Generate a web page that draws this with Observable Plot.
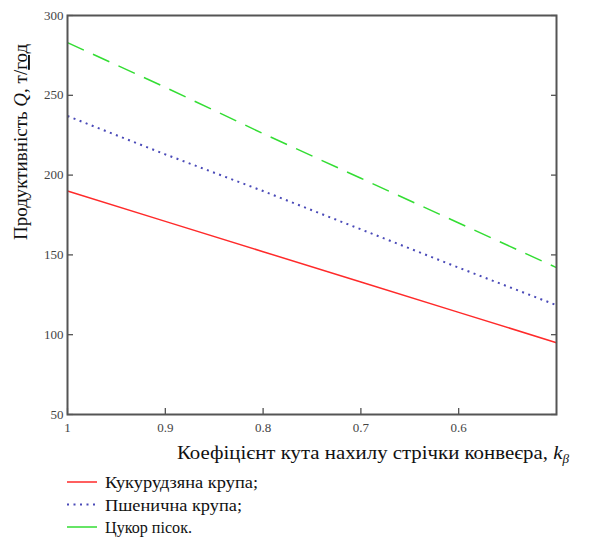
<!DOCTYPE html>
<html>
<head>
<meta charset="utf-8">
<script src="https://cdn.jsdelivr.net/npm/d3@7"></script>
<script src="https://cdn.jsdelivr.net/npm/@observablehq/plot@0.6"></script>
<style>
  html, body { margin: 0; padding: 0; background: #fff; }
  svg { display: block; }
</style>
</head>
<body>
<div id="chart"></div>
<div id="legend"></div>
<script>
// Коефіцієнт кута нахилу стрічки конвеєра k_β
const kValues = [1, 0.9, 0.8, 0.7, 0.6, 0.5];
// Продуктивність Q, т/год
const corn  = [190, 171, 152, 133, 114, 95];    // Кукурудзяна крупа
const wheat = [237, 213, 190, 166, 142, 118.5]; // Пшенична крупа
const sugar = [283, 255, 226, 198, 170, 142];   // Цукор пісок
const xTicks = [1, 0.9, 0.8, 0.7, 0.6];
const yTicks = [50, 100, 150, 200, 250, 300];

const seriesNames = ["Кукурудзяна крупа;", "Пшенична крупа;", "Цукор пісок."];
const seriesColors = ["#ff2a2a", "#4a4ab8", "#33dd33"];
const seriesDash = [null, "2,4.5", "18,10"];
const seriesValues = [corn, wheat, sugar];

const FONT = '"Liberation Serif", "Times New Roman", serif';

const data = seriesValues.flatMap((vals, i) =>
  vals.map((q, j) => ({k: kValues[j], q, s: seriesNames[i]}))
);

const W = 599, H = 470;
const chart = Plot.plot({
  width: W,
  height: H,
  marginLeft: 67,
  marginRight: 43,
  marginTop: 15,
  marginBottom: H - 414,
  style: {fontFamily: FONT, fontSize: "13px", color: "#444", background: "#fff"},
  x: {domain: [1, 0.5], ticks: xTicks},
  y: {domain: [50, 300], ticks: yTicks},
  marks: [
    // tick labels
    Plot.axisX({anchor: "bottom", ticks: xTicks, tickSize: 0, tickPadding: 8, label: null, tickFormat: d => String(d), fill: "#444"}),
    Plot.axisY({anchor: "left", ticks: yTicks, tickSize: 0, tickPadding: 4, label: null, fill: "#444"}),
    // inward ticks
    Plot.axisX({anchor: "bottom", ticks: xTicks, tickSize: 6, dy: -6, text: null, label: null, stroke: "#444", strokeWidth: 1.2}),
    Plot.axisY({anchor: "left", ticks: yTicks, tickSize: 6, dx: 6, text: null, label: null, stroke: "#444", strokeWidth: 1.2}),
    Plot.axisY({anchor: "right", ticks: yTicks, tickSize: 6, dx: -6, text: null, label: null, stroke: "#444", strokeWidth: 1.2}),
    ...seriesNames.map((name, i) =>
      Plot.line(data.filter(d => d.s === name), {
        x: "k", y: "q",
        stroke: seriesColors[i],
        strokeWidth: i === 1 ? 2 : 1.5,
        strokeDasharray: seriesDash[i],
        strokeLinecap: "butt"
      })
    ),
    Plot.frame({stroke: "#555", strokeWidth: 2})
  ]
});
document.getElementById("chart").appendChild(chart);

const svg = d3.select(chart);
// y axis title
const yt = svg.append("text")
  .attr("transform", "translate(27,240) rotate(-90)")
  .attr("text-anchor", "start")
  .style("font-family", FONT)
  .style("font-size", "19px")
  .attr("fill", "#111");
yt.append("tspan").text("Продуктивність ");
yt.append("tspan").attr("font-style", "italic").text("Q");
yt.append("tspan").text(", т/");
yt.append("tspan").style("text-decoration", "underline").style("text-decoration-color", "#e03030").text("год");

// x axis title
const xt = svg.append("text")
  .attr("x", 177).attr("y", 459)
  .attr("text-anchor", "start")
  .attr("textLength", 392)
  .attr("lengthAdjust", "spacingAndGlyphs")
  .style("font-family", FONT)
  .style("font-size", "19px")
  .attr("fill", "#111");
xt.append("tspan").text("Коефіцієнт кута нахилу стрічки конвеєра, ");
xt.append("tspan").attr("font-style", "italic").text("k");
xt.append("tspan").attr("font-style", "italic").attr("font-size", "12px").attr("dy", 4).text("β");

// legend (below the chart svg)
const legendWidths = [153, 137, 87];
const lg = d3.select("#legend").append("svg").attr("width", W).attr("height", 537 - H);
seriesNames.forEach((name, i) => {
  const base = 18 + i * 22.5;
  lg.append("line").attr("x1", 67).attr("x2", 97)
    .attr("y1", base - 6).attr("y2", base - 6)
    .attr("stroke", seriesColors[i]).attr("stroke-width", i === 1 ? 2 : 1.5)
    .attr("stroke-dasharray", i === 1 ? "2,4.5" : null);
  lg.append("text").attr("x", 105).attr("y", base)
    .attr("textLength", legendWidths[i])
    .attr("lengthAdjust", "spacingAndGlyphs")
    .style("font-family", FONT).style("font-size", "17px").attr("fill", "#111")
    .text(name);
});
</script>
</body>
</html>
